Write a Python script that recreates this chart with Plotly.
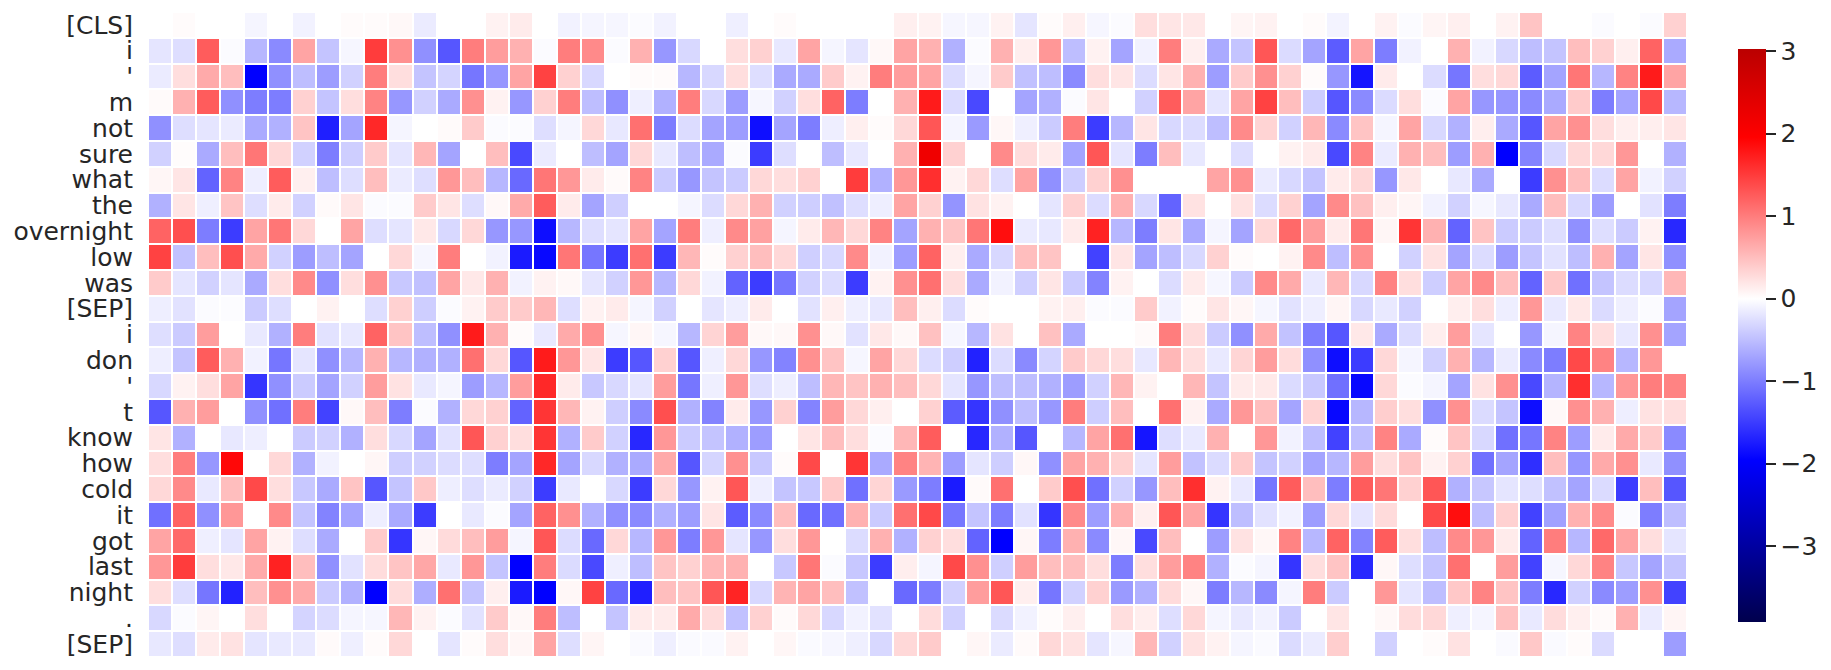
import plotly.graph_objects as go

tokens = ["[CLS]","i","'","m","not","sure","what","the","overnight","low","was","[SEP]","i","don","'","t","know","how","cold","it","got","last","night",".","[SEP]"]

r00 = [0,0.03,0,0,-0.08,0,-0.1,0,0.03,0.03,0.05,-0.15,0,0,0.1,0.15,0,-0.1,-0.08,-0.07,-0.03,-0.1,0,0,-0.12,0,0.03,0,0,0,0,0.12,0.1,-0.07,-0.07,0.1,-0.2,0.03,0.12,-0.07,-0.03,0.25,0.2,0.18,0,0.08,0.1,0,0.03,-0.09,0,0.1,-0.03,0.08,0.12,0,0.1,0.45,0,0,-0.03,0,-0.03,0.35]
r01 = [-0.2,-0.25,1.25,-0.03,-0.55,-0.9,0.7,-0.45,-0.07,1.5,0.85,-0.85,-1.3,1.0,0.75,0.6,-0.03,1.0,0.9,-0.03,0.6,-0.8,-0.3,0,0.25,0.35,-0.18,0.7,-0.08,-0.2,0.05,0.7,0.6,-0.6,-0.03,0.6,0.13,0.8,-0.5,0.1,-0.7,-0.1,1.0,0.12,-0.65,-0.45,1.3,-0.28,-0.7,-1.25,0.7,-1.0,-0.1,0,0.6,-0.1,-0.3,-0.5,-0.45,0.5,0.35,0.12,1.2,-0.65]
r02 = [-0.15,0.25,0.65,0.5,-1.96,-0.85,-0.5,-0.75,-0.35,1.0,0.25,-0.45,-0.33,-1.05,-0.8,0.7,1.45,0.35,-0.3,0,0.03,0.03,-0.55,-0.3,0.25,-0.25,-0.65,-0.65,0.4,0.1,1.0,0.75,0.7,-0.27,-0.08,0.4,-0.48,-0.5,-0.9,0.25,0.2,-0.27,0.2,0.6,-0.75,0.4,0.85,0.35,0.03,-0.8,-1.8,0.15,0,-0.27,-1.05,0.25,0.3,-1.25,-0.7,1.05,-0.55,0.95,1.75,0.7]
r03 = [0.04,0.6,1.25,-0.85,-1.0,-1.0,0.35,-0.45,0.25,0.95,-0.8,-0.35,-0.65,0.85,0.1,-0.8,0.35,1.0,-0.5,-0.85,-0.12,-0.6,1.0,-0.3,-0.75,-0.07,-0.35,0.25,1.2,-1.0,0,0.6,1.75,-0.27,-1.4,0,-0.7,-0.6,-0.03,0.2,0,-0.35,1.25,0.7,-0.2,0.7,1.45,0.5,-0.38,-1.3,-0.9,-0.28,0.25,-0.03,0.7,-0.8,-0.8,-0.9,-0.65,0.4,-1.0,-0.7,1.4,-0.55]
r04 = [-0.85,-0.25,-0.2,-0.15,-0.65,-0.6,0.45,-1.72,-0.7,1.65,-0.08,0,0.04,0.4,-0.03,-0.03,-0.25,-0.08,0.3,-0.18,1.1,-1.0,-0.27,-0.7,-0.75,-1.85,-0.7,-1.0,-0.13,0.12,0.03,0.3,1.3,-0.08,-0.78,0.06,-0.12,-0.4,1.0,-1.5,-0.55,0.2,-0.3,-0.27,-0.5,0.9,0.33,-0.35,0.55,-0.9,0.45,-0.08,0.7,-0.3,-0.6,0.13,-0.65,-1.3,0.7,0.85,0.25,0.12,0.13,0.2]
r05 = [-0.35,0.02,-0.65,0.5,1.05,0.3,-0.35,-1.0,-0.38,0.4,-0.2,0.55,-0.7,0,0.5,-1.4,-0.15,0,-0.5,-0.7,0.3,-0.17,-0.5,-0.65,-0.03,-1.5,-0.25,0,-0.5,-0.18,0,0.6,2.2,0.35,0,0.9,0.27,0.15,-0.7,1.3,-0.2,-1.0,0.5,-0.18,0,-0.25,0,0.1,0.15,-1.4,0.95,-0.15,0.6,0.5,-0.75,0.6,-1.96,-0.95,-0.3,0.3,0.3,0.8,0,-0.6]
r06 = [0.07,0.2,-1.2,0.95,-0.13,1.25,0.12,-0.5,-0.25,0.5,-0.15,-0.25,0.8,0.5,-0.55,-1.15,1.05,0.8,0.15,0.04,0.95,-0.4,-0.8,-0.45,-0.4,0.3,0.25,0.35,0,1.5,-0.6,0.8,1.6,0.1,0.3,-0.25,0.7,-0.85,-0.38,0.35,0.85,0,0,0,0.7,0.85,-0.15,-0.3,-0.45,0.15,0.3,-0.8,0.18,0,-0.18,-0.65,0,-1.5,0.85,0.5,-0.27,0.7,-0.1,-0.35]
r07 = [-0.6,0.2,-0.12,0.45,-0.25,0.15,-0.35,0.04,0.2,-0.03,-0.03,0.4,0.2,-0.25,0.05,0.65,1.25,0.15,-0.7,-0.37,0,0,-0.08,-0.27,0.3,0.6,-0.35,-0.38,-0.48,-0.25,-0.13,0.7,0.35,-0.82,0.22,0.1,0,-0.2,0.35,-0.27,0.6,-0.3,-1.2,0.22,0,0.22,-0.27,0.35,-0.7,0.9,0.48,0.12,0.08,-0.1,-0.35,-0.07,-0.18,-0.65,0.5,-0.3,-0.75,0,-0.22,-1.0]
r08 = [1.2,1.35,-1.0,-1.5,0.7,1.05,0.3,0,0.7,-0.25,-0.2,0.18,-0.3,0.3,-0.8,-0.8,-1.85,-0.55,-0.25,-0.2,0.7,-0.7,1.0,-0.12,0.9,0.72,-0.08,0.15,0.55,0.3,0.95,-0.7,0.6,0.45,1.05,1.85,-0.15,-0.18,0.15,1.7,-0.55,-1.0,0.2,-0.65,-0.08,-0.7,0.3,1.15,0.75,0.15,1.05,0.07,1.55,0.6,-1.2,0.45,-0.4,-0.4,-0.25,-0.85,-0.25,-0.4,0.1,-1.65]
r09 = [1.45,-0.47,0.5,1.35,0.65,-0.35,-0.75,-0.5,-0.7,0,0.3,-0.07,1.0,0,-0.1,-1.75,-1.9,1.05,-1.05,-1.5,1.1,-1.5,0.55,0.03,0.35,0.5,0.3,-0.37,-0.3,0.9,-0.1,-0.75,1.2,0.12,-0.65,-0.3,0.5,0.45,0,-1.45,0.2,-0.7,-0.5,-0.3,0.35,0.03,0,0.1,0.9,-0.5,0.85,0,-0.35,0.22,-0.7,-0.27,-0.75,-0.45,-0.22,-0.5,0.6,-0.7,0.2,-0.85]
r10 = [0.4,-0.2,-0.35,-0.2,-0.65,0.25,0.9,-0.85,0.25,0.85,-0.42,-0.48,0.7,0.18,0.6,-0.1,0.1,0.05,-0.2,-0.35,0.8,-0.55,0.3,-0.1,-1.2,-1.5,-1.05,-0.35,-0.27,-1.5,0.1,0.85,1.1,0.25,-0.65,-0.1,-0.37,0.2,-0.4,-0.95,0.1,0,-0.27,0.15,-0.07,-0.4,0.9,0.65,-0.17,0.55,-0.3,0.95,0.25,-0.38,0.7,0.9,0.5,-1.2,0.42,-1.1,-0.45,-0.27,-0.3,0.55]
r11 = [-0.13,-0.22,-0.03,-0.02,-0.4,-0.25,0,0.1,0,-0.25,0.35,-0.38,-0.03,0.1,0.4,0.4,0.55,-0.25,0.1,0.15,-0.08,-0.35,0,-0.2,-0.13,0.15,0,-0.22,0.12,-0.12,-0.18,0.5,0.12,-0.27,0.03,0,0,0.1,0.12,-0.03,-0.03,0.4,-0.1,0.03,0.2,0.07,-0.07,-0.22,-0.13,0.08,-0.3,-0.17,-0.35,0,0.13,0.25,-0.13,0.8,-0.17,0.18,-0.28,-0.12,-0.03,-0.7]
r12 = [-0.25,-0.4,0.75,0,-0.17,-0.6,1.0,-0.22,-0.18,1.2,0.45,-0.5,-0.85,1.75,0.6,0.03,-0.17,0.65,0.85,-0.07,0.07,-0.07,-0.55,0.33,0.75,0.05,0.05,0.85,0.05,-0.22,0.18,0.05,0.48,-0.07,-0.55,0.22,0,0.48,-0.65,0,0,0.04,1.0,0.27,-0.4,-0.85,0.65,-0.47,-1.0,-1.3,0.18,-0.65,-0.27,0.13,0.75,-0.2,0,-0.8,-0.08,0.95,0.25,-0.18,0.85,-0.7]
r13 = [-0.13,-0.45,1.25,0.6,-0.1,-1.05,-0.2,-0.85,-0.55,0.6,-0.55,-0.6,-0.6,1.1,0.3,-1.3,1.75,0.8,0.2,-1.5,-1.3,0.35,-1.3,-0.12,0.3,-0.8,-0.95,0.85,0.45,-0.07,0.7,0.3,-0.27,-0.38,-1.7,-0.27,-0.9,-0.33,0.4,0.3,0.25,-0.18,0.55,0.25,-0.17,0.32,0.75,0.27,-0.85,-1.85,-1.5,0.3,-0.08,-0.35,0.6,-0.55,-0.15,-0.9,-1.0,1.4,0.95,-0.55,0.8,0]
r14 = [-0.3,0.1,0.25,0.7,-1.55,-0.85,-0.4,-0.7,-0.35,0.75,0.22,-0.17,-0.08,-0.75,-0.55,0.75,1.65,0.15,-0.42,-0.3,-0.2,0.75,-1.05,-0.12,0.8,-0.25,-0.13,-0.5,0.55,0.45,0.6,0.5,0.3,-0.2,-0.8,-0.5,-0.5,-0.6,-0.75,-0.35,0.55,0.1,0,0.55,-0.45,0.15,0.17,-0.28,-0.42,-1.1,-1.9,0.3,-0.03,-0.08,-0.7,0.22,0.85,-1.4,-0.58,1.6,-0.55,0.8,1.0,0.95]
r15 = [-1.3,0.6,0.75,0,-0.85,-1.1,1.0,-1.45,0.05,0.5,-1.0,-0.03,-0.6,0.3,0.35,-1.2,1.55,0.55,0.1,-0.38,-0.9,1.35,-0.6,-0.95,0.15,-0.8,0.35,-0.95,0.75,0.3,0.12,0,0.35,-1.25,-1.55,-0.85,-0.5,-0.8,1.0,-0.38,0.5,0,1.1,0.1,-0.65,0.8,0.5,-0.7,0.33,-1.9,-0.55,0.38,0.25,-0.85,0.85,-0.28,-0.45,-1.85,0.05,0.85,0.6,-0.13,0.22,0.25]
r16 = [0.2,-0.6,0,-0.18,-0.13,0,-0.4,-0.35,-0.6,0.25,-0.3,-0.7,-0.22,1.3,0.35,0.25,1.55,-0.6,0.4,-0.35,-1.65,0.8,-0.4,-0.45,-0.6,-0.75,0,0.2,0.5,0.25,-0.03,0.55,1.25,0,-1.65,-0.6,-1.3,0,-0.55,0.7,1.1,-1.8,-0.25,-0.17,0.6,0,0.8,-0.1,-0.5,-1.45,-0.5,0.95,-0.65,0.03,0.45,-0.3,-1.1,-1.05,0.95,-0.75,0.15,0.65,0.4,-0.9]
r17 = [0.25,1.0,-0.8,1.9,0,0.3,-0.6,-0.1,0,0.07,-0.38,-0.35,-0.27,-0.25,-1.0,-0.7,1.65,-0.7,-0.3,-0.6,-0.65,0.65,-1.3,-0.32,0.85,-0.42,0.03,1.4,0,1.55,-0.65,0.95,0.58,-0.75,-0.2,-0.38,0.06,-0.85,0.7,0.6,0.35,-0.2,0.75,-0.47,-0.28,0.4,-0.45,-0.35,-0.7,-0.55,0.75,0.25,0.45,0.1,0.35,-1.1,-0.7,-1.6,0.5,-0.8,0.65,0.85,-0.17,-0.85]
r18 = [0.3,0.9,-0.17,0.5,1.4,0.25,-0.42,-0.65,0.45,-1.3,-0.45,0.42,-0.13,-0.25,-0.15,-0.35,-1.5,-0.17,0,-0.3,-1.5,0.3,-0.8,0.1,1.3,-0.13,-0.45,-0.42,0.4,-1.1,0.32,-0.78,-1.0,-1.75,0.04,1.1,0,0.4,1.35,-1.1,-0.35,-0.8,0.5,1.6,0.1,-0.17,-1.05,1.25,0.5,-1.0,1.25,1.05,0.35,1.3,-0.6,-0.43,-0.2,-0.25,-0.48,-0.7,-0.28,-1.5,0.5,-1.3]
r19 = [-1.1,1.2,-0.85,0.8,0,0.9,-0.45,-0.95,-0.7,-0.13,-0.65,-1.5,0,-0.17,-0.03,-0.7,1.2,0.85,-0.6,-0.85,-0.9,-0.6,-0.75,0.2,-1.25,-0.9,0.5,-1.15,-1.1,0.6,-0.4,1.1,1.4,-1.05,-0.45,-1.0,-0.22,-1.55,0.9,-0.75,0.6,0.12,1.3,0.7,-1.55,-0.5,-0.22,-0.1,-0.75,0.3,-0.2,0.28,0,1.4,1.85,-0.5,0.35,-1.45,-0.72,0.6,0.9,-0.03,-1.0,-0.5]
r20 = [0.7,1.15,-0.12,-0.2,0.7,0.1,-0.25,-0.65,0,0.4,-1.55,0.07,0.28,0.5,0.75,-0.08,1.3,-0.27,-1.15,0.3,-0.55,0.8,-1.0,0.8,-0.2,-0.8,0.25,0.8,0,-0.27,0.6,-0.6,0.35,0.25,-1.2,-1.96,0.07,-1.0,0.6,-0.9,0.06,-1.4,0.5,0,-0.75,0.22,0.06,0.95,-0.55,1.2,-0.95,1.25,0.25,-0.5,0.9,0.8,0.15,-1.2,1.0,-0.55,1.15,0.7,0.25,-0.2]
r21 = [0.8,1.5,0.25,0.18,0.65,1.7,0.5,-0.85,-0.22,0.27,0.45,0.68,-0.17,0.8,-0.45,-1.96,1.0,-0.28,-1.4,-0.12,-0.5,0.45,0.35,0.55,0.6,0,-0.42,1.05,-0.03,-0.43,-1.5,0.13,-0.08,1.4,0.85,-0.37,0.75,0.5,0.5,0.25,-1.0,0.25,0.75,0.95,-0.6,-0.03,-0.08,-1.55,0.25,0.45,-1.65,0.06,-0.25,-0.45,1.1,0,0.75,-1.45,-0.07,0.3,0.95,-0.43,-0.7,-0.45]
r22 = [0.25,-0.25,-1.05,-1.7,0.5,0.85,0.65,-0.4,-0.6,-1.96,0.27,-0.62,1.1,-0.45,0.12,-1.75,-1.96,0.06,1.45,-1.15,-1.72,0.5,0.45,1.3,1.68,-0.3,0.58,0.7,0.5,-0.48,0,-1.15,-1.0,-0.35,0.75,1.3,0.12,-1.05,-0.35,0.35,-0.78,-0.6,0.28,0.06,-1.0,-0.55,-0.9,-0.08,1.0,-0.4,0,0.8,-0.2,-0.5,0.42,0.95,0.45,-1.0,-1.65,-0.35,-0.9,-0.75,0.85,-1.45]
r23 = [-0.3,-0.03,0.08,0,0.25,0,-0.33,-0.27,-0.08,-0.07,0.55,0.1,-0.03,-0.22,0.4,0.05,1.0,-0.5,0,-0.45,0.15,0.15,0.65,0.27,-0.48,0.35,0.04,0.3,-0.3,-0.1,-0.22,0,0.27,-0.35,0,-0.28,-0.1,0.03,0.12,0,0.25,0.13,-0.25,0.3,-0.08,-0.17,-0.1,-0.4,0,0.2,0,0.05,0.27,0.3,-0.12,-0.08,0.48,-0.17,0.27,0.12,0.04,0.6,-0.15,0.08]
r24 = [-0.18,-0.25,0.15,0.22,-0.2,-0.17,-0.17,0.04,-0.12,0.03,0.3,0,-0.2,0.03,0.25,0.07,0.7,-0.25,0.08,0,-0.04,-0.12,-0.04,-0.04,0.1,0,0.07,-0.04,-0.07,-0.12,-0.3,0.3,0.4,0,0.07,-0.15,0.04,0.3,0.22,-0.2,-0.07,0.55,-0.35,0.22,0.1,-0.08,-0.04,-0.28,-0.15,0.38,0,-0.35,0,0.03,0.22,0,-0.04,0.42,-0.04,0.03,-0.28,0,0,-0.75]

rows = [r00,r01,r02,r03,r04,r05,r06,r07,r08,r09,r10,r11,r12,r13,r14,r15,r16,r17,r18,r19,r20,r21,r22,r23,r24]

vmin, vmax = -3.92, 3.03
span = vmax - vmin
colorscale = [
    [0, "rgb(0,0,77)"],
    [(-1.96 - vmin) / span, "rgb(0,0,255)"],
    [(0 - vmin) / span, "rgb(255,255,255)"],
    [(1.96 - vmin) / span, "rgb(255,0,0)"],
    [1, "rgb(186,0,0)"],
]

W, H = 1823, 662
fig = go.Figure(go.Heatmap(
    z=rows, zmin=vmin, zmax=vmax, colorscale=colorscale, xgap=2, ygap=2,
    colorbar=dict(
        thickness=28, thicknessmode="pixels", len=573, lenmode="pixels",
        xref="container", yref="container", x=(1738 - 8) / W, xanchor="left",
        y=32 / H, yanchor="bottom", outlinewidth=0, xpad=0, ypad=0,
        tickvals=[-3, -2, -1, 0, 1, 2, 3], ticks="outside", ticklen=10, tickwidth=2,
        tickcolor="#262626", tickfont=dict(family="DejaVu Sans", size=25, color="#262626"),
    ),
))
fig.update_layout(
    width=W, height=H, paper_bgcolor="white", plot_bgcolor="white",
    margin=dict(l=140, r=144, t=4, b=13),
)
fig.update_xaxes(visible=False, range=[-0.5, 63.5])
fig.update_yaxes(
    range=[24.5, -0.5], tickmode="array", tickvals=list(range(25)), ticktext=tokens,
    ticks="", showgrid=False, zeroline=False, showline=False, ticklabelstandoff=14,
    tickfont=dict(family="DejaVu Sans", size=25, color="#262626"),
)
fig.write_html("out.html")
